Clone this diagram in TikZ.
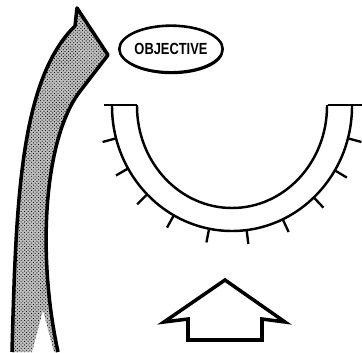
\documentclass[tikz,border=0pt]{standalone}
\usepackage{fontspec}
\setsansfont{Liberation Sans}
\usetikzlibrary{shapes.geometric,patterns,shadows}
\tikzset{
  ink/.style    ={draw=black, line width=2.1pt, line join=round},
  stipple/.style={preaction={fill=gray!50}, pattern=crosshatch dots,
                  pattern color=black},
  goal/.style   ={ellipse, draw=black, line width=2.2pt, fill=white,
                  minimum width=3.1cm, minimum height=1.4cm,
                  inner xsep=-0.1cm, inner ysep=0pt,
                  general shadow={fill=black, shadow xshift=0.6pt,
                                  shadow yshift=-1.6pt},
                  font=\sffamily\bfseries\fontsize{12.5}{14}\selectfont},
  tick/.style   ={draw=black, line width=2pt},
  push/.style   ={draw=black, line width=3pt, line join=miter}
}
\begin{document}
\begin{tikzpicture}[x=0.03cm, y=0.03cm]
\useasboundingbox (0,0) rectangle (362,352);
% the long stippled arrow, notch at the tail left open
\fill[stipple] (12,0) .. controls (16,150) and (20,272) .. (75,326)
  -- (77,344) -- (108,297) -- (81,262)
  .. controls (45,217) and (36,102) .. (58,0)
  -- (54,0) -- (43,42) -- (32,0) -- cycle;
\draw[ink, line width=3pt] (12,0) .. controls (16,150) and (20,272) .. (75,326)
  -- (77,344) -- (108,297) -- (81,262)
  .. controls (45,217) and (36,102) .. (58,0);

\node[goal] (obj) at (171,303) {\scalebox{0.88}[1.1]{OBJECTIVE}};

% the trough
\coordinate (c) at (232,246);
\draw[ink] (104,247) -- (137,247);
\draw[ink] (328,247) -- (362,247);
\draw[ink] (112,247) -- (112,246) arc[start angle=180, end angle=360,
  x radius=3.6cm, y radius=3.75cm] -- (352,247);
\draw[ink] (137,247) -- (137,246) arc[start angle=180, end angle=360,
  x radius=2.85cm, y radius=3.06cm] -- (327,247);
\foreach \a in {-15,-31,-47,-65,-83,-101,-119,-135,-150,-165}
  \draw[tick, shift={(c)}] (\a:3.6cm and 3.75cm) -- (\a:4.02cm and 4.17cm);

% the short hollow arrow
\draw[push] (225,72) -- (285,30) -- (262,33) -- (262,12) -- (188,12)
  -- (188,33) -- (164,30) -- cycle;
\end{tikzpicture}
\end{document}
